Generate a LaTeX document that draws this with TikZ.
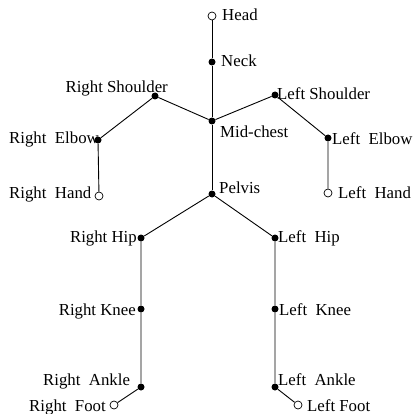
\documentclass[tikz,border=0pt]{standalone}
\usepackage{fontspec}
\setmainfont{Liberation Serif}
\begin{document}
\begin{tikzpicture}[x=1pt,y=-1pt,
  joint/.style={circle,fill=black,inner sep=0pt,minimum size=7pt},
  endjoint/.style={circle,draw=black,fill=white,line width=0.7pt,inner sep=0pt,minimum size=8pt},
  lbl/.style={inner sep=0pt,font=\fontsize{16.8}{20}\selectfont},
  bone/.style={line width=0.9pt}]
\useasboundingbox (0,0) rectangle (412,414);
% joints
\node[endjoint] (head) at (212,16) {};
\node[joint] (neck) at (212,62) {};
\node[joint] (mid) at (212,121) {};
\node[joint] (rs) at (155,96) {};
\node[joint] (ls) at (275,95) {};
\node[joint] (re) at (98,140) {};
\node[joint] (le) at (328,138) {};
\node[endjoint] (rh) at (99,196) {};
\node[endjoint] (lh) at (328,193) {};
\node[joint] (pel) at (212,194) {};
\node[joint] (rhip) at (141,238) {};
\node[joint] (lhip) at (275,238) {};
\node[joint] (rk) at (141,309) {};
\node[joint] (lk) at (275,309) {};
\node[joint] (ra) at (141,387) {};
\node[joint] (la) at (275,387) {};
\node[endjoint] (rf) at (114,405) {};
\node[endjoint] (lf) at (298,405) {};
% bones
\draw[bone] (head) -- (neck) -- (mid);
\draw[bone] (mid) -- (rs) -- (re) -- (rh);
\draw[bone] (mid) -- (ls) -- (le) -- (lh);
\draw[bone] (mid) -- (pel);
\draw[bone] (pel) -- (rhip) -- (rk) -- (ra) -- (rf);
\draw[bone] (pel) -- (lhip) -- (lk) -- (la) -- (lf);
% labels
\node[lbl,anchor=base west] (thead) at (222,21) {Head};
\node[lbl,anchor=base west] (tneck) at (221,67) {Neck};
\node[lbl,anchor=base east] (trs) at (168,93) {Right Shoulder};
\node[lbl,anchor=base west] (tls) at (277,100) {Left Shoulder};
\node[lbl,anchor=base west] (tmid) at (220,137.5) {Mid-chest};
\node[lbl,anchor=base west] (tre) at (9,143) {Right~~Elbow};
\node[lbl,anchor=base west] (tle) at (332,145) {Left~~Elbow};
\node[lbl,anchor=base west] (trh) at (9,198) {Right~~Hand};
\node[lbl,anchor=base west] (tlh) at (338,198) {Left~~Hand};
\node[lbl,anchor=base west] (tpel) at (219,193) {Pelvis};
\node[lbl,anchor=base east] (trhip) at (137,242) {Right Hip};
\node[lbl,anchor=base west] (tlhip) at (278,242) {Left~~Hip};
\node[lbl,anchor=base east] (trk) at (136,315) {Right Knee};
\node[lbl,anchor=base west] (tlk) at (279,315) {Left~~Knee};
\node[lbl,anchor=base west] (tra) at (43,385) {Right~~Ankle};
\node[lbl,anchor=base west] (tla) at (278,385) {Left~~Ankle};
\node[lbl,anchor=base east] (trf) at (106,411) {Right~~Foot};
\node[lbl,anchor=base west] (tlf) at (307,411) {Left Foot};
\end{tikzpicture}
\end{document}
